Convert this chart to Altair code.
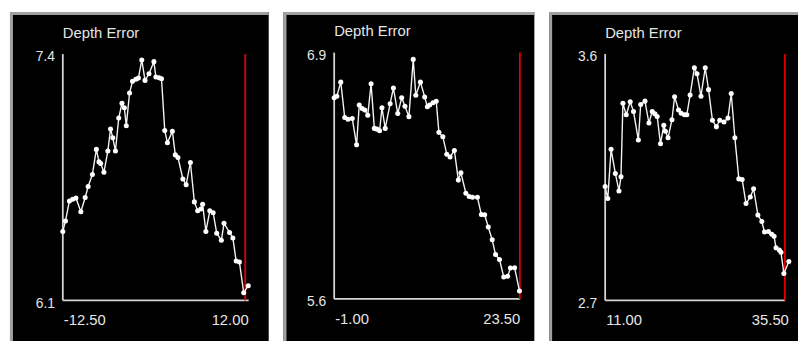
import altair as alt
import pandas as pd

TITLE = "Depth Error"

p1_x = [-12.5, -12.15, -11.63, -11.2, -10.77, -10.12, -9.55, -9.16, -8.6, -8.08, -7.73, -7.51, -7.08, -6.56,
        -6.21, -5.91, -5.56, -5.13, -4.7, -4.39, -4.13, -3.7, -3.31, -2.87, -2.53, -2.09, -1.66, -1.14, -0.49,
        -0.23, 0.2, 0.51, 0.94, 1.29, 1.94, 2.33, 2.68, 3.33, 3.76, 4.32, 4.84, 5.28, 5.71, 5.93, 6.36, 6.88,
        7.32, 7.79, 8.4, 8.75, 9.48, 9.92, 10.35, 10.78, 11.35, 11.95]
p1_y = [6.464, 6.519, 6.625, 6.634, 6.641, 6.568, 6.643, 6.701, 6.764, 6.897, 6.831, 6.823, 6.776, 6.889,
        7.005, 6.958, 6.889, 7.062, 7.14, 7.117, 7.022, 7.195, 7.256, 7.267, 7.273, 7.369, 7.261, 7.296, 7.36,
        7.279, 7.275, 7.27, 6.996, 6.932, 6.993, 6.868, 6.854, 6.741, 6.71, 6.828, 6.62, 6.573, 6.582, 6.608,
        6.464, 6.573, 6.563, 6.455, 6.417, 6.507, 6.459, 6.429, 6.308, 6.303, 6.14, 6.178]

p2_x = [-1.0, -0.65, -0.13, 0.39, 0.82, 1.38, 1.95, 2.3, 2.69, 3.03, 3.42, 3.86, 4.29, 4.64, 4.98, 5.29, 5.72,
        6.37, 6.8, 7.37, 7.89, 8.32, 8.84, 9.41, 9.75, 10.36, 10.92, 11.27, 11.57, 12.01, 12.44, 12.79, 13.31,
        13.83, 14.26, 14.83, 15.35, 15.69, 16.34, 16.78, 17.21, 17.86, 18.38, 18.82, 19.29, 19.81, 20.25,
        20.77, 21.33, 21.85, 22.2, 22.76, 23.4]
p2_y = [6.661, 6.669, 6.744, 6.557, 6.548, 6.552, 6.413, 6.623, 6.605, 6.597, 6.569, 6.735, 6.5, 6.496, 6.487,
        6.609, 6.5, 6.63, 6.713, 6.578, 6.661, 6.617, 6.562, 6.864, 6.675, 6.744, 6.666, 6.614, 6.623, 6.635,
        6.643, 6.479, 6.456, 6.363, 6.349, 6.383, 6.227, 6.266, 6.158, 6.141, 6.137, 6.137, 6.045, 6.044, 5.98,
        5.912, 5.834, 5.808, 5.716, 5.72, 5.763, 5.765, 5.642]

p3_x = [11.0, 11.35, 11.79, 12.36, 12.84, 13.11, 13.37, 13.81, 14.34, 14.78, 15.43, 15.74, 16.31, 16.84, 17.28,
        17.63, 17.94, 18.38, 18.82, 19.04, 19.39, 19.91, 20.26, 20.79, 21.14, 21.58, 21.89, 22.33, 22.9, 23.25,
        23.78, 24.35, 24.79, 25.31, 25.84, 26.28, 26.85, 27.38, 27.82, 28.3, 28.83, 29.27, 29.79, 30.36, 30.8,
        31.37, 31.9, 32.25, 32.78, 33.22, 33.53, 33.79, 34.23, 34.45, 34.84, 35.5]
p3_y = [3.116, 3.072, 3.252, 3.164, 3.1, 3.152, 3.42, 3.378, 3.426, 3.39, 3.286, 3.416, 3.428, 3.348, 3.39,
        3.382, 3.372, 3.272, 3.34, 3.318, 3.294, 3.36, 3.444, 3.396, 3.384, 3.378, 3.378, 3.45, 3.55, 3.528,
        3.446, 3.55, 3.47, 3.358, 3.334, 3.358, 3.352, 3.366, 3.456, 3.294, 3.144, 3.142, 3.054, 3.078, 3.108,
        3.012, 2.988, 2.95, 2.952, 2.942, 2.934, 2.892, 2.884, 2.876, 2.798, 2.842]

x_ranges = [(-12.5, 12.0), (-1.0, 23.5), (11.0, 35.5)]
y_ranges = [(6.1, 7.4), (5.6, 6.9), (2.7, 3.6)]
x_tick_labels = [("-12.50", "12.00"), ("-1.00", "23.50"), ("11.00", "35.50")]
y_tick_labels = [("6.1", "7.4"), ("5.6", "6.9"), ("2.7", "3.6")]
cursor_x = [11.55, 23.45, 34.97]
axis_end_x = [12.0, 23.5, 35.0]

series = [(p1_x, p1_y), (p2_x, p2_y), (p3_x, p3_y)]

# ---- layout (page pixels) ----
TOP = 8
H = 333
GAP = 15
PANEL_W = [262, 254, 252]
PANEL_LEFT = [8, 8 + 262 + GAP, 8 + 262 + GAP + 254 + GAP]
# plot box: x of min, x of max, y of max, y of min
PLOT_BOX = [(61.5, 249.7, 50.5, 300.0), (336.3, 524.7, 49.0, 298.5), (610.7, 796.7, 50.5, 300.0)]

FONT = "Liberation Sans"
TXT = "#e6e6e6"
AXIS_C = "#d4d4d4"
BORDER_C = "#a0a0a0"
RED = "#e00000"


def panel(i):
    xmin, xmax = x_ranges[i]
    ymin, ymax = y_ranges[i]
    xl, xr, yt, yb = PLOT_BOX[i]
    left, W = PANEL_LEFT[i], PANEL_W[i]
    ppx = (xr - xl) / (xmax - xmin)
    dx_lo = xmin - (xl - left) / ppx
    dx_hi = xmax + (left + W - xr) / ppx
    vt, vb = yt - TOP, yb - TOP
    ppy = (vb - vt) / (ymax - ymin)
    dy_hi = ymax + vt / ppy
    dy_lo = ymin - (H - vb) / ppy

    xs = alt.Scale(domain=[dx_lo, dx_hi], nice=False, zero=False)
    ys = alt.Scale(domain=[dy_lo, dy_hi], nice=False, zero=False)

    def X(f):
        return alt.X(f, type="quantitative", scale=xs, axis=None)

    def Y(f):
        return alt.Y(f, type="quantitative", scale=ys, axis=None)

    sx, sy = series[i]
    df = pd.DataFrame({"x": sx, "y": sy})

    border_l = alt.Chart(pd.DataFrame({"a": [0]})).mark_rule(color=BORDER_C, strokeWidth=3).encode(
        x=alt.value(1.5), y=alt.value(0), y2=alt.value(H))
    border_t = alt.Chart(pd.DataFrame({"a": [0]})).mark_rule(color=BORDER_C, strokeWidth=3).encode(
        y=alt.value(1.5), x=alt.value(0), x2=alt.value(W))

    yaxis = alt.Chart(pd.DataFrame({"x": [xmin], "y": [ymin], "y2": [ymax]})).mark_rule(
        color=AXIS_C, strokeWidth=1.8).encode(x=X("x"), y=Y("y"), y2="y2")
    xaxis = alt.Chart(pd.DataFrame({"x": [xmin], "x2": [axis_end_x[i]], "y": [ymin]})).mark_rule(
        color=AXIS_C, strokeWidth=1.8).encode(x=X("x"), x2="x2", y=Y("y"))
    cursor = alt.Chart(pd.DataFrame({"x": [cursor_x[i]], "y": [ymin], "y2": [ymax]})).mark_rule(
        color=RED, strokeWidth=1.8).encode(x=X("x"), y=Y("y"), y2="y2")

    line = alt.Chart(df).mark_line(color="#f4f4f4", strokeWidth=1.4).encode(x=X("x"), y=Y("y"))
    pts = alt.Chart(df).mark_circle(color="white", opacity=1, size=26).encode(x=X("x"), y=Y("y"))

    ylab = alt.Chart(pd.DataFrame({"x": [xmin, xmin], "y": [ymin, ymax],
                                   "t": list(y_tick_labels[i])})).mark_text(
        font=FONT, fontSize=14, color=TXT, align="right", baseline="middle", dx=-8, dy=3.5).encode(
        x=X("x"), y=Y("y"), text="t:N")
    xlab_lo = alt.Chart(pd.DataFrame({"x": [xmin], "y": [ymin], "t": [x_tick_labels[i][0]]})).mark_text(
        font=FONT, fontSize=15, color=TXT, align="left", baseline="middle", dx=1, dy=20).encode(
        x=X("x"), y=Y("y"), text="t:N")
    xlab_hi = alt.Chart(pd.DataFrame({"x": [xmax], "y": [ymin], "t": [x_tick_labels[i][1]]})).mark_text(
        font=FONT, fontSize=15, color=TXT, align="right", baseline="middle", dx=0, dy=20).encode(
        x=X("x"), y=Y("y"), text="t:N")
    title = alt.Chart(pd.DataFrame({"x": [xmin], "y": [ymax], "t": [TITLE]})).mark_text(
        font=FONT, fontSize=15, color=TXT, align="left", baseline="alphabetic", dx=0, dy=-16.5).encode(
        x=X("x"), y=Y("y"), text="t:N")

    return alt.layer(border_l, border_t, yaxis, xaxis, cursor, line, pts, ylab, xlab_lo, xlab_hi, title).properties(
        width=W, height=H)


chart = alt.hconcat(panel(0), panel(1), panel(2), spacing=GAP, bounds="flush").properties(
    padding=0, background="white"
).configure_view(fill="black", stroke=None)

chart.save("out.html", embed_options={"renderer": "svg", "actions": False})
